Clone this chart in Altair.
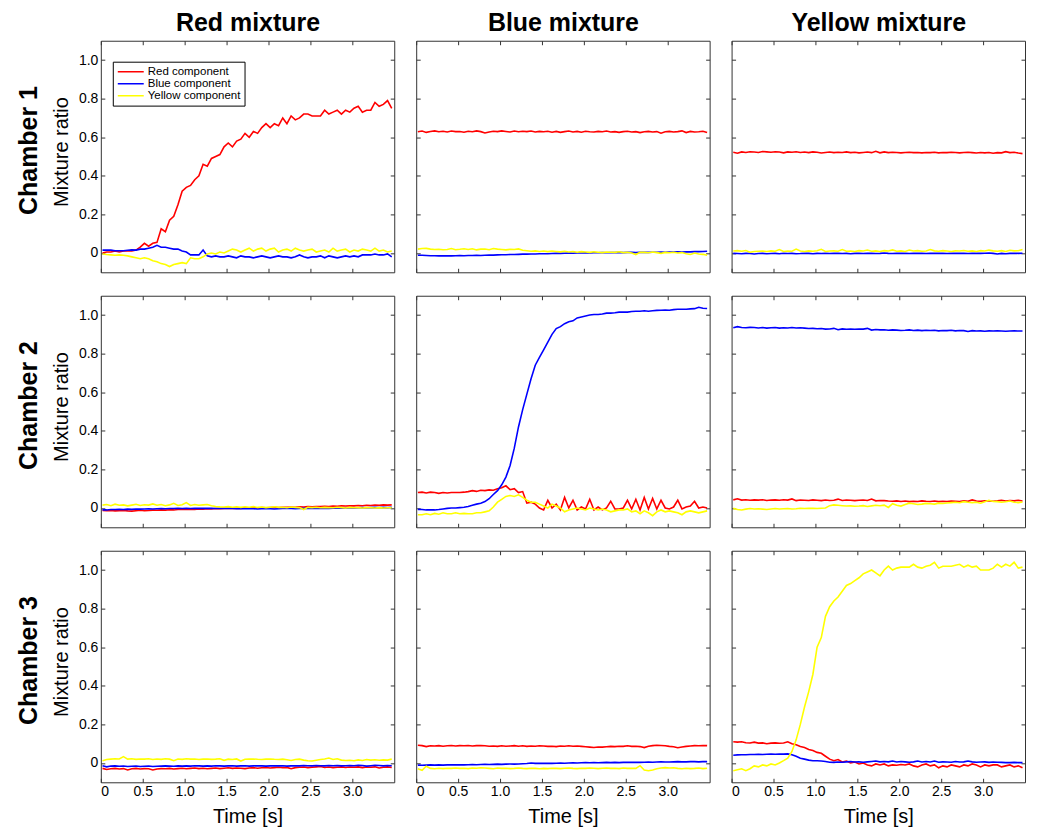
import altair as alt
import pandas as pd

# ---------------- data ----------------
T = [round(0.02 + 0.05 * i, 2) for i in range(70)]
COMPONENTS = ["Red component", "Blue component", "Yellow component"]
COLORS = ["#ff0000", "#0000ff", "#ffff00"]
MIXTURES = ["Red mixture", "Blue mixture", "Yellow mixture"]
CHAMBERS = ["Chamber 1", "Chamber 2", "Chamber 3"]
Y_TICKS = [0, 0.2, 0.4, 0.6, 0.8, 1.0]
X_TICKS = [0, 0.5, 1.0, 1.5, 2.0, 2.5, 3.0]

# Chamber 1
R11 = [0.000, 0.005, 0.005, 0.010, 0.005, 0.010, 0.010, 0.010, 0.015, 0.030,
       0.050, 0.035, 0.050, 0.055, 0.125, 0.110, 0.170, 0.190, 0.250, 0.320,
       0.340, 0.350, 0.380, 0.400, 0.460, 0.450, 0.490, 0.500, 0.510, 0.550,
       0.570, 0.550, 0.580, 0.590, 0.620, 0.600, 0.630, 0.620, 0.650, 0.670,
       0.650, 0.670, 0.660, 0.700, 0.670, 0.710, 0.690, 0.700, 0.720, 0.720,
       0.710, 0.710, 0.710, 0.740, 0.720, 0.730, 0.740, 0.720, 0.740, 0.730,
       0.750, 0.760, 0.730, 0.740, 0.740, 0.780, 0.760, 0.770, 0.790, 0.750]
B11 = [0.015, 0.015, 0.015, 0.012, 0.012, 0.012, 0.014, 0.016, 0.015, 0.020,
       0.020, 0.025, 0.030, 0.040, 0.030, 0.030, 0.025, 0.020, 0.020, 0.010,
       0.005, -0.010, -0.010, -0.010, 0.015, -0.015, -0.020, -0.015, -0.020, -0.020,
       -0.015, -0.020, -0.025, -0.015, -0.020, -0.020, -0.025, -0.020, -0.015, -0.020,
       -0.025, -0.020, -0.015, -0.020, -0.020, -0.025, -0.020, -0.010, -0.020, -0.025,
       -0.020, -0.020, -0.015, -0.025, -0.015, -0.020, -0.025, -0.020, -0.015, -0.020,
       -0.015, -0.020, -0.010, -0.010, -0.010, -0.005, -0.010, -0.010, -0.005, -0.020]
Y11 = [-0.005, -0.008, -0.010, -0.012, -0.010, -0.012, -0.015, -0.020, -0.025, -0.030,
       -0.025, -0.030, -0.040, -0.045, -0.055, -0.060, -0.070, -0.060, -0.055, -0.050,
       -0.055, -0.025, -0.030, -0.030, -0.020, -0.005, 0.000, -0.005, 0.005, 0.000,
       0.010, 0.020, 0.015, 0.005, 0.015, 0.025, 0.010, 0.020, 0.025, 0.010,
       0.020, 0.025, 0.005, 0.015, 0.020, 0.010, 0.025, 0.015, 0.010, 0.015,
       0.020, 0.005, 0.010, 0.015, 0.005, 0.025, 0.010, 0.015, 0.020, 0.005,
       0.015, 0.010, 0.020, 0.015, 0.010, 0.025, 0.010, 0.015, 0.005, 0.010]

R12 = [0.628, 0.632, 0.625, 0.630, 0.633, 0.628, 0.631, 0.627, 0.632, 0.629,
       0.630, 0.626, 0.631, 0.628, 0.633, 0.629, 0.622, 0.627, 0.631, 0.629,
       0.633, 0.630, 0.627, 0.632, 0.628, 0.631, 0.629, 0.632, 0.627, 0.630,
       0.628, 0.631, 0.626, 0.630, 0.625, 0.629, 0.632, 0.627, 0.630, 0.626,
       0.631, 0.628, 0.627, 0.630, 0.628, 0.632, 0.627, 0.629, 0.625, 0.629,
       0.631, 0.627, 0.629, 0.624, 0.628, 0.630, 0.627, 0.629, 0.621, 0.628,
       0.630, 0.627, 0.629, 0.633, 0.624, 0.630, 0.627, 0.628, 0.631, 0.624]
B12 = [-0.012, -0.012, -0.013, -0.014, -0.014, -0.015, -0.015, -0.014, -0.015, -0.014,
       -0.013, -0.014, -0.013, -0.013, -0.012, -0.013, -0.012, -0.011, -0.011, -0.010,
       -0.009, -0.009, -0.008, -0.008, -0.007, -0.006, -0.006, -0.005, -0.005, -0.004,
       -0.004, -0.004, -0.003, -0.002, -0.002, -0.001, 0.000, -0.001, 0.000, 0.000,
       0.001, 0.000, 0.001, 0.001, 0.002, 0.001, 0.002, 0.002, 0.003, 0.002,
       0.003, 0.003, 0.002, 0.003, 0.004, 0.003, 0.004, 0.004, 0.005, 0.004,
       0.005, 0.005, 0.006, 0.005, 0.006, 0.006, 0.007, 0.007, 0.008, 0.009]
Y12 = [0.020, 0.023, 0.024, 0.020, 0.018, 0.019, 0.017, 0.018, 0.023, 0.017,
       0.019, 0.022, 0.018, 0.022, 0.016, 0.020, 0.021, 0.017, 0.023, 0.020,
       0.018, 0.016, 0.019, 0.018, 0.021, 0.014, 0.012, 0.009, 0.011, 0.008,
       0.010, 0.007, 0.010, 0.008, 0.006, 0.009, 0.005, 0.008, 0.004, 0.007,
       0.005, 0.003, 0.006, 0.004, 0.002, 0.005, 0.004, 0.003, 0.006, 0.002,
       0.004, 0.000, -0.008, 0.004, 0.003, 0.001, 0.005, 0.002, -0.002, 0.003,
       0.001, 0.004, 0.000, 0.002, -0.004, -0.008, 0.000, -0.005, -0.007, -0.012]

R13 = [0.522, 0.517, 0.524, 0.521, 0.525, 0.523, 0.521, 0.526, 0.524, 0.522,
       0.525, 0.523, 0.519, 0.524, 0.522, 0.525, 0.521, 0.523, 0.520, 0.524,
       0.522, 0.518, 0.521, 0.523, 0.520, 0.522, 0.521, 0.524, 0.520, 0.522,
       0.519, 0.521, 0.523, 0.520, 0.527, 0.519, 0.524, 0.520, 0.522, 0.521,
       0.519, 0.521, 0.522, 0.520, 0.521, 0.519, 0.521, 0.520, 0.522, 0.519,
       0.521, 0.520, 0.522, 0.521, 0.519, 0.521, 0.522, 0.520, 0.518, 0.521,
       0.519, 0.521, 0.517, 0.520, 0.519, 0.525, 0.520, 0.522, 0.518, 0.515]
B13 = [-0.002, -0.003, -0.004, -0.002, -0.003, -0.005, -0.003, -0.002, -0.004, -0.003,
       -0.002, -0.004, -0.001, -0.003, -0.002, -0.004, -0.003, -0.001, -0.002, -0.004,
       -0.002, -0.003, -0.001, -0.003, -0.002, -0.001, -0.003, -0.002, -0.004, -0.002,
       -0.001, -0.003, -0.002, -0.001, -0.003, -0.002, 0.000, -0.002, -0.003, -0.001,
       -0.002, -0.001, -0.003, -0.002, -0.001, -0.002, -0.003, -0.002, -0.001, -0.002,
       -0.001, -0.003, -0.002, -0.001, -0.002, -0.001, -0.003, -0.002, -0.001, -0.002,
       -0.001, 0.000, -0.002, -0.005, -0.002, -0.004, -0.002, -0.001, -0.002, -0.001]
Y13 = [0.010, 0.012, 0.009, 0.013, 0.004, 0.008, 0.009, 0.010, 0.008, 0.011,
       0.009, 0.018, 0.008, 0.010, 0.009, 0.020, 0.010, 0.008, 0.011, 0.009,
       0.012, 0.019, 0.008, 0.010, 0.011, 0.009, 0.018, 0.009, 0.010, 0.008,
       0.012, 0.010, 0.015, 0.009, 0.011, 0.008, 0.012, 0.010, 0.016, 0.009,
       0.011, 0.008, 0.015, 0.010, 0.012, 0.009, 0.010, 0.018, 0.011, 0.009,
       0.012, 0.010, 0.008, 0.011, 0.010, 0.013, 0.009, 0.011, 0.008, 0.012,
       0.010, 0.015, 0.011, 0.009, 0.012, 0.008, 0.014, 0.011, 0.012, 0.018]

# Chamber 2
R21 = [-0.013, -0.014, -0.013, -0.015, -0.014, -0.013, -0.015, -0.016, -0.014, -0.012,
       -0.014, -0.013, -0.011, -0.012, -0.010, -0.011, -0.009, -0.010, -0.008, -0.007,
       -0.008, -0.006, -0.007, -0.005, -0.006, -0.004, -0.005, -0.003, -0.004, -0.002,
       -0.003, -0.002, -0.001, -0.002, 0.000, -0.001, 0.001, 0.000, 0.002, 0.001,
       0.002, 0.003, 0.002, 0.004, 0.003, 0.005, 0.004, 0.006, 0.005, 0.007,
       0.006, 0.008, 0.007, 0.009, 0.008, 0.010, 0.009, 0.011, 0.010, 0.012,
       0.011, 0.013, 0.012, 0.014, 0.013, 0.015, 0.014, 0.016, 0.015, 0.016]
B21 = [-0.010, -0.010, -0.008, -0.008, -0.007, -0.008, -0.006, -0.007, -0.005, -0.006,
       -0.005, -0.004, -0.005, -0.004, -0.003, -0.004, -0.003, -0.003, -0.002, -0.003,
       -0.002, -0.003, -0.002, -0.001, -0.002, -0.001, -0.002, -0.003, -0.002, -0.003,
       -0.002, -0.003, -0.004, -0.003, -0.004, -0.003, -0.004, -0.005, -0.004, -0.003,
       -0.004, -0.005, -0.004, -0.003, -0.002, -0.003, -0.004, -0.003, -0.002, -0.003,
       -0.002, -0.001, -0.002, -0.001, -0.002, -0.001, 0.000, -0.001, 0.000, 0.001,
       0.000, 0.001, 0.002, 0.001, 0.002, 0.003, 0.002, 0.003, 0.002, 0.003]
Y21 = [0.015, 0.018, 0.012, 0.020, 0.014, 0.016, 0.011, 0.015, 0.019, 0.013,
       0.017, 0.015, 0.021, 0.014, 0.018, 0.012, 0.016, 0.024, 0.013, 0.017,
       0.028, 0.013, 0.018, 0.014, 0.016, 0.018, 0.012, 0.008, 0.006, 0.005,
       0.007, 0.004, 0.006, 0.003, 0.006, 0.004, 0.007, 0.003, 0.005, 0.002,
       0.004, 0.006, 0.003, 0.004, 0.001, 0.005, 0.003, 0.002, -0.008, 0.003,
       0.002, 0.004, 0.001, 0.003, 0.002, 0.001, 0.004, 0.002, 0.000, 0.003,
       0.001, 0.002, 0.000, 0.002, 0.001, 0.000, 0.002, 0.000, 0.001, 0.001]

R22 = [0.080, 0.082, 0.078, 0.082, 0.080, 0.076, 0.080, 0.078, 0.080, 0.080,
       0.080, 0.082, 0.085, 0.090, 0.086, 0.092, 0.090, 0.094, 0.092, 0.100,
       0.105, 0.115, 0.095, 0.100, 0.080, 0.085, 0.025, 0.030, 0.020, 0.000,
       -0.010, 0.040, 0.000, 0.020, -0.010, 0.055, 0.000, 0.040, -0.010, 0.005,
       -0.005, 0.045, -0.010, 0.005, -0.010, 0.000, 0.035, -0.005, -0.005, 0.000,
       0.040, -0.005, 0.045, -0.010, 0.055, -0.005, 0.050, -0.005, 0.040, 0.000,
       -0.005, 0.005, 0.040, -0.005, 0.005, 0.010, 0.035, 0.000, 0.005, 0.000]
B22 = [-0.007, -0.008, -0.010, -0.010, -0.010, -0.008, -0.005, -0.002, 0.000, 0.000,
       0.002, 0.004, 0.008, 0.014, 0.020, 0.025, 0.033, 0.048, 0.070, 0.090,
       0.120, 0.160, 0.220, 0.310, 0.420, 0.510, 0.590, 0.670, 0.740, 0.780,
       0.820, 0.860, 0.900, 0.930, 0.940, 0.955, 0.965, 0.970, 0.985, 0.990,
       0.995, 1.000, 1.003, 1.003, 1.005, 1.010, 1.010, 1.012, 1.015, 1.015,
       1.015, 1.018, 1.020, 1.020, 1.022, 1.020, 1.022, 1.024, 1.025, 1.026,
       1.025, 1.028, 1.030, 1.030, 1.030, 1.032, 1.033, 1.040, 1.035, 1.034]
Y22 = [-0.035, -0.035, -0.030, -0.035, -0.028, -0.032, -0.025, -0.030, -0.030, -0.025,
       -0.030, -0.028, -0.030, -0.030, -0.025, -0.025, -0.020, -0.015, 0.005, 0.030,
       0.045, 0.060, 0.065, 0.060, 0.068, 0.055, 0.040, 0.030, 0.030, 0.020,
       0.010, 0.000, 0.020, 0.010, 0.000, -0.020, -0.010, -0.005, 0.000, -0.005,
       -0.010, 0.000, -0.005, -0.010, -0.005, -0.010, -0.020, -0.015, -0.010, -0.010,
       -0.005, -0.020, -0.015, -0.030, -0.015, -0.025, -0.040, -0.020, -0.010, -0.020,
       -0.015, -0.020, -0.025, -0.035, -0.020, -0.015, -0.020, -0.025, -0.020, -0.015]

R23 = [0.042, 0.048, 0.041, 0.043, 0.040, 0.042, 0.041, 0.043, 0.039, 0.041,
       0.042, 0.040, 0.043, 0.041, 0.047, 0.038, 0.041, 0.040, 0.039, 0.042,
       0.040, 0.038, 0.041, 0.039, 0.040, 0.046, 0.039, 0.041, 0.040, 0.038,
       0.040, 0.041, 0.039, 0.046, 0.037, 0.039, 0.038, 0.036, 0.035, 0.037,
       0.034, 0.036, 0.033, 0.035, 0.034, 0.037, 0.035, 0.034, 0.036, 0.033,
       0.035, 0.034, 0.036, 0.035, 0.034, 0.037, 0.035, 0.042, 0.036, 0.035,
       0.037, 0.036, 0.035, 0.037, 0.040, 0.036, 0.039, 0.037, 0.040, 0.036]
B23 = [0.934, 0.940, 0.935, 0.934, 0.936, 0.935, 0.933, 0.935, 0.932, 0.934,
       0.935, 0.932, 0.934, 0.933, 0.935, 0.933, 0.934, 0.932, 0.930, 0.931,
       0.929, 0.930, 0.927, 0.928, 0.931, 0.924, 0.928, 0.926, 0.927, 0.926,
       0.928, 0.927, 0.931, 0.922, 0.925, 0.923, 0.924, 0.921, 0.923, 0.922,
       0.920, 0.921, 0.923, 0.920, 0.922, 0.919, 0.921, 0.920, 0.921, 0.918,
       0.920, 0.919, 0.921, 0.918, 0.920, 0.919, 0.915, 0.919, 0.917, 0.918,
       0.916, 0.918, 0.917, 0.918, 0.917, 0.916, 0.917, 0.918, 0.917, 0.917]
Y23 = [-0.002, -0.008, -0.010, -0.006, -0.003, -0.005, -0.004, -0.006, -0.008, -0.005,
       -0.003, -0.005, -0.004, -0.003, -0.005, -0.004, -0.001, -0.003, -0.002, -0.001,
       -0.003, -0.001, 0.000, 0.012, 0.016, 0.014, 0.012, 0.010, 0.011, 0.009,
       0.010, 0.012, 0.008, 0.011, 0.014, 0.012, 0.015, 0.003, 0.022, 0.014,
       0.010, 0.018, 0.025, 0.022, 0.018, 0.020, 0.024, 0.022, 0.020, 0.025,
       0.023, 0.026, 0.028, 0.030, 0.027, 0.033, 0.030, 0.028, 0.030, 0.025,
       0.032, 0.040, 0.034, 0.033, 0.030, 0.032, 0.036, 0.030, 0.028, 0.031]

# Chamber 3
R31 = [-0.028, -0.034, -0.030, -0.028, -0.031, -0.029, -0.036, -0.030, -0.028, -0.031,
       -0.029, -0.030, -0.036, -0.031, -0.029, -0.030, -0.028, -0.031, -0.029, -0.027,
       -0.030, -0.028, -0.026, -0.029, -0.027, -0.030, -0.028, -0.026, -0.029, -0.027,
       -0.025, -0.028, -0.026, -0.027, -0.029, -0.026, -0.024, -0.027, -0.025, -0.023,
       -0.026, -0.024, -0.022, -0.025, -0.023, -0.030, -0.024, -0.022, -0.021, -0.024,
       -0.022, -0.020, -0.018, -0.023, -0.021, -0.024, -0.022, -0.020, -0.023, -0.021,
       -0.022, -0.020, -0.024, -0.021, -0.022, -0.020, -0.026, -0.022, -0.020, -0.023]
B31 = [-0.014, -0.020, -0.016, -0.015, -0.017, -0.016, -0.018, -0.017, -0.016, -0.018,
       -0.017, -0.016, -0.018, -0.017, -0.016, -0.015, -0.016, -0.017, -0.015, -0.016,
       -0.015, -0.016, -0.014, -0.015, -0.016, -0.015, -0.016, -0.014, -0.015, -0.016,
       -0.015, -0.014, -0.016, -0.015, -0.014, -0.016, -0.015, -0.014, -0.015, -0.016,
       -0.015, -0.014, -0.015, -0.014, -0.016, -0.015, -0.014, -0.015, -0.013, -0.014,
       -0.015, -0.013, -0.014, -0.015, -0.013, -0.014, -0.013, -0.015, -0.014, -0.013,
       -0.014, -0.012, -0.013, -0.016, -0.014, -0.012, -0.013, -0.015, -0.013, -0.014]
Y31 = [0.012, 0.018, 0.020, 0.022, 0.021, 0.033, 0.020, 0.022, 0.019, 0.021,
       0.020, 0.022, 0.018, 0.021, 0.019, 0.022, 0.020, 0.012, 0.021, 0.019,
       0.022, 0.020, 0.021, 0.018, 0.020, 0.021, 0.019, 0.020, 0.022, 0.014,
       0.020, 0.018, 0.021, 0.010, 0.019, 0.020, 0.021, 0.019, 0.018, 0.020,
       0.021, 0.019, 0.018, 0.020, 0.017, 0.013, 0.018, 0.020, 0.015, 0.012,
       0.010, 0.014, 0.018, 0.021, 0.026, 0.018, 0.022, 0.015, 0.013, 0.014,
       0.012, 0.016, 0.013, 0.018, 0.015, 0.017, 0.014, 0.016, 0.015, 0.020]

R32 = [0.092, 0.090, 0.085, 0.089, 0.088, 0.090, 0.087, 0.089, 0.091, 0.088,
       0.090, 0.089, 0.091, 0.088, 0.090, 0.091, 0.089, 0.087, 0.088, 0.086,
       0.089, 0.087, 0.088, 0.090, 0.087, 0.089, 0.086, 0.088, 0.087, 0.089,
       0.088, 0.086, 0.087, 0.085, 0.088, 0.087, 0.089, 0.087, 0.088, 0.086,
       0.084, 0.082, 0.080, 0.083, 0.082, 0.084, 0.086, 0.085, 0.087, 0.086,
       0.089, 0.086, 0.087, 0.085, 0.080, 0.087, 0.090, 0.092, 0.091, 0.089,
       0.086, 0.084, 0.079, 0.083, 0.086, 0.088, 0.090, 0.089, 0.091, 0.090]
B32 = [-0.011, -0.012, -0.011, -0.010, -0.011, -0.010, -0.011, -0.010, -0.009, -0.010,
       -0.009, -0.010, -0.009, -0.008, -0.009, -0.008, -0.007, -0.008, -0.007, -0.006,
       -0.007, -0.006, -0.005, -0.006, -0.005, -0.004, -0.003, 0.000, -0.002, -0.001,
       -0.002, -0.001, -0.002, -0.001, 0.000, -0.001, 0.000, 0.001, 0.000, 0.001,
       0.002, 0.001, 0.002, 0.001, 0.002, 0.003, 0.002, 0.003, 0.002, 0.003,
       0.004, 0.003, 0.004, 0.003, 0.004, 0.005, 0.004, 0.005, 0.006, 0.005,
       0.005, 0.006, 0.007, 0.006, 0.006, 0.007, 0.007, 0.006, 0.007, 0.007]
Y32 = [-0.030, -0.038, -0.017, -0.028, -0.030, -0.027, -0.029, -0.027, -0.028, -0.026,
       -0.028, -0.027, -0.029, -0.026, -0.027, -0.025, -0.026, -0.028, -0.030, -0.026,
       -0.028, -0.027, -0.029, -0.028, -0.026, -0.028, -0.029, -0.027, -0.028, -0.030,
       -0.028, -0.029, -0.027, -0.028, -0.029, -0.027, -0.026, -0.028, -0.029, -0.027,
       -0.028, -0.026, -0.027, -0.029, -0.027, -0.026, -0.028, -0.027, -0.029, -0.026,
       -0.028, -0.027, -0.028, -0.014, -0.036, -0.040, -0.036, -0.030, -0.026, -0.024,
       -0.026, -0.025, -0.028, -0.030, -0.027, -0.029, -0.028, -0.026, -0.029, -0.027]

R33 = [0.110, 0.108, 0.110, 0.105, 0.104, 0.108, 0.103, 0.104, 0.100, 0.103,
       0.104, 0.102, 0.104, 0.110, 0.100, 0.095, 0.085, 0.080, 0.070, 0.065,
       0.055, 0.050, 0.035, 0.020, 0.012, 0.018, 0.005, 0.010, 0.000, 0.005,
       -0.005, 0.000, -0.010, -0.015, -0.005, -0.010, -0.005, -0.015, -0.010, -0.012,
       -0.008, -0.010, -0.005, -0.015, -0.020, -0.010, -0.005, -0.015, -0.010, -0.025,
       -0.015, -0.020, -0.010, -0.015, -0.020, -0.010, -0.015, -0.005, -0.010, -0.020,
       -0.010, -0.015, -0.010, -0.010, -0.020, -0.015, -0.010, -0.020, -0.015, -0.025]
B33 = [0.040, 0.042, 0.043, 0.043, 0.044, 0.044, 0.045, 0.044, 0.045, 0.046,
       0.045, 0.046, 0.046, 0.047, 0.043, 0.035, 0.025, 0.020, 0.015, 0.012,
       0.012, 0.010, 0.008, 0.004, 0.003, 0.005, 0.004, 0.006, 0.008, 0.005,
       0.006, 0.004, 0.006, 0.008, 0.010, 0.006, 0.008, 0.006, 0.010, 0.005,
       0.008, 0.006, 0.004, 0.006, 0.010, 0.005, 0.008, 0.005, 0.010, 0.004,
       0.006, 0.005, 0.004, 0.008, 0.005, 0.006, 0.010, 0.006, 0.004, 0.005,
       0.006, 0.003, 0.005, 0.004, 0.003, 0.002, 0.002, 0.003, 0.002, 0.002]
Y33 = [-0.040, -0.035, -0.030, -0.040, -0.030, -0.015, -0.020, -0.010, -0.015, -0.005,
       -0.010, 0.000, 0.012, 0.025, 0.060, 0.120, 0.200, 0.290, 0.370, 0.460,
       0.600, 0.650, 0.760, 0.810, 0.840, 0.860, 0.890, 0.920, 0.930, 0.945,
       0.960, 0.980, 0.990, 1.000, 0.985, 0.970, 1.000, 1.020, 1.000, 1.010,
       1.015, 1.015, 1.015, 1.030, 1.015, 1.010, 1.020, 1.025, 1.040, 1.010,
       1.020, 1.020, 1.020, 1.025, 1.030, 1.015, 1.025, 1.015, 1.020, 1.000,
       1.000, 1.000, 1.010, 1.030, 1.015, 1.030, 1.020, 1.040, 1.010, 1.015]

SERIES = {
    (0, 0): (R11, B11, Y11), (0, 1): (R12, B12, Y12), (0, 2): (R13, B13, Y13),
    (1, 0): (R21, B21, Y21), (1, 1): (R22, B22, Y22), (1, 2): (R23, B23, Y23),
    (2, 0): (R31, B31, Y31), (2, 1): (R32, B32, Y32), (2, 2): (R33, B33, Y33),
}

FONT = "Liberation Sans"
LABEL_EXPR = "datum.value == 0 ? '0' : format(datum.value, '.1f')"
W, H = 294, 232


def panel(r, c):
    rows = []
    for name, vals in zip(COMPONENTS, SERIES[(r, c)]):
        for t, v in zip(T, vals):
            rows.append({"t": t, "v": v, "comp": name})
    df = pd.DataFrame(rows)

    xscale = alt.Scale(domain=[0, 3.5], nice=False, zero=False)
    yscale = alt.Scale(domain=[-0.1, 1.1], nice=False, zero=False)

    if (r, c) == (0, 0):
        legend = alt.Legend(
            orient="none", legendX=12, legendY=21, title=None,
            symbolType="stroke", symbolSize=676, symbolStrokeWidth=1.5,
            clipHeight=12, labelFontSize=11.5, labelFont=FONT,
            labelColor="black", labelOffset=3, padding=4, rowPadding=0,
            strokeColor="black", fillColor="white", cornerRadius=0,
            labelLimit=300,
        )
    else:
        legend = None

    lines = alt.Chart(df).mark_line(strokeWidth=1.6, clip=True).encode(
        x=alt.X("t:Q", scale=xscale,
                axis=alt.Axis(orient="bottom", values=X_TICKS, labels=(r == 2),
                              labelExpr=LABEL_EXPR,
                              title="Time [s]" if r == 2 else None,
                              offset=-4, tickSize=4, labelPadding=2,
                              titlePadding=8)),
        y=alt.Y("v:Q", scale=yscale,
                axis=alt.Axis(orient="left", values=Y_TICKS, labels=(c == 0),
                              labelExpr=LABEL_EXPR,
                              title="Mixture ratio" if c == 0 else None,
                              titleY=H / 2 - 5,
                              offset=-4, tickSize=4, labelPadding=3,
                              titlePadding=7)),
        color=alt.Color("comp:N",
                        scale=alt.Scale(domain=COMPONENTS, range=COLORS),
                        legend=legend),
    )

    ghost = alt.Chart(df).mark_line(opacity=0).encode(
        x=alt.X("t:Q", scale=xscale,
                axis=alt.Axis(orient="top", values=X_TICKS, labels=False,
                              offset=-4, tickSize=4,
                              title=MIXTURES[c] if r == 0 else None,
                              titleFontSize=25, titleFontWeight="bold",
                              titlePadding=5)),
        y=alt.Y("v:Q", scale=yscale,
                axis=alt.Axis(orient="right", values=Y_TICKS, labels=False,
                              offset=-4, tickSize=4, title=None)),
        detail="comp:N",
    )

    layer = alt.layer(lines, ghost).resolve_axis(x="independent", y="independent")
    if c == 0:
        layer = layer.properties(
            width=W, height=H,
            title=alt.TitleParams(CHAMBERS[r], orient="left", anchor="middle",
                                  frame="group", fontSize=25,
                                  fontWeight="bold", font=FONT,
                                  color="black", offset=9, dx=6),
        )
    else:
        layer = layer.properties(width=W, height=H)
    return layer


panels = [panel(r, c) for r in range(3) for c in range(3)]

chart = (
    alt.concat(*panels, columns=3, spacing={"row": 23.5, "column": 22},
               bounds="flush")
    .resolve_legend(color="independent")
    .properties(padding={"left": 9, "top": 1, "right": 4, "bottom": 0})
    .configure_view(stroke="#333333", strokeWidth=1)
    .configure_axis(grid=False, domain=False, tickColor="#333333",
                    tickWidth=1, labelFont=FONT, labelFontSize=14,
                    labelColor="black", titleFont=FONT, titleFontSize=20,
                    titleFontWeight="normal", titleColor="black")
    .configure_title(font=FONT, color="black")
)

chart.save("out.html", embed_options={"renderer": "svg", "actions": False})
